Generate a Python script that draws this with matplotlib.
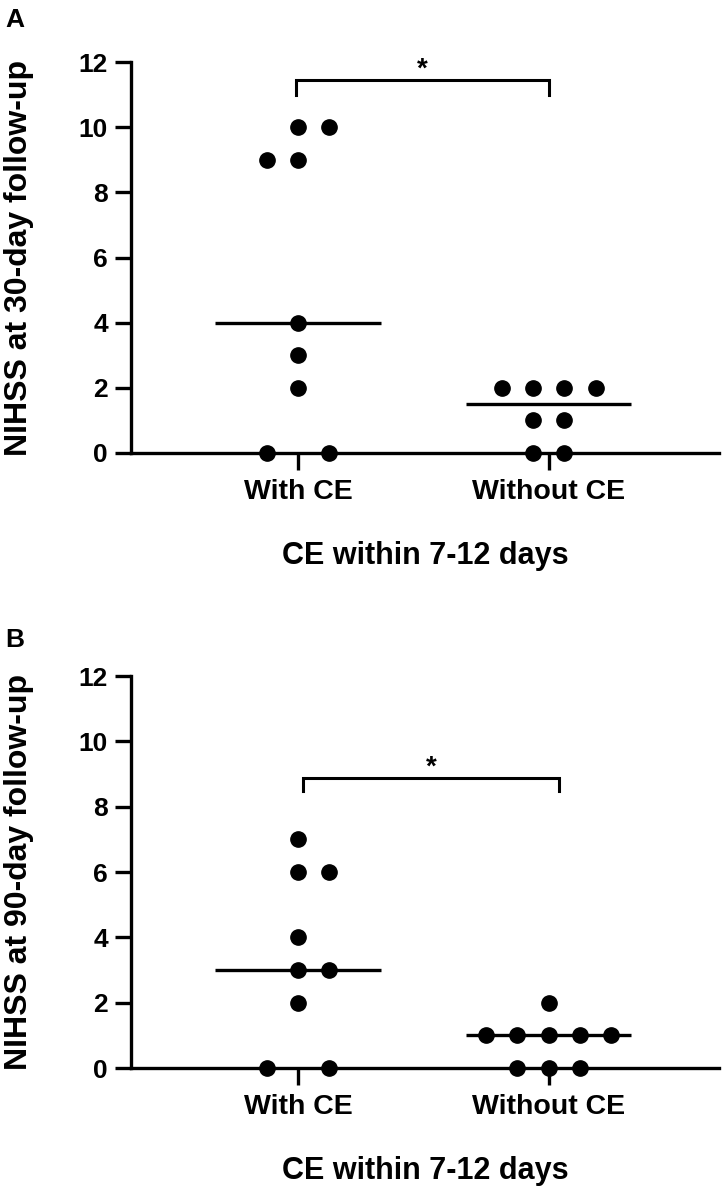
import numpy as np
import matplotlib
matplotlib.use("Agg")
import matplotlib.pyplot as plt

plt.rcParams['font.family'] = ['Liberation Sans', 'DejaVu Sans']
plt.rcParams['font.weight'] = 'bold'

# data
groups = ["With CE", "Without CE"]
a_with = [10, 10, 9, 9, 4, 3, 2, 0, 0]
a_without = [2, 2, 2, 2, 1, 1, 0, 0]
b_with = [7, 6, 6, 4, 3, 3, 2, 0, 0]
b_without = [2, 1, 1, 1, 1, 1, 0, 0, 0]
yticks = [0, 2, 4, 6, 8, 10, 12]

# horizontal slot of each dot (layout only, like the scatter dot plot)
a_with_slot = [0, 1, -1, 0, 0, 0, 0, -1, 1]
a_without_slot = [-1.5, -0.5, 0.5, 1.5, -0.5, 0.5, -0.5, 0.5]
b_with_slot = [0, 0, 1, 0, 0, 1, 0, -1, 1]
b_without_slot = [0, -2, -1, 0, 1, 2, -1, 0, 1]

W, H = 722, 1188
fig = plt.figure(figsize=(W / 100, H / 100), dpi=100)

LW = 2.4
STEP = 0.125


def panel(rect, vals, slots, ylabel, bracket, letter, letter_y):
    ax = fig.add_axes(rect)
    for i, (v, s) in enumerate(zip(vals, slots)):
        x = i + 1 + np.array(s) * STEP
        ax.plot(x, v, 'o', color='black', ms=11, clip_on=False, zorder=5)
        m = np.median(v)
        ax.plot([i + 1 - 0.33, i + 1 + 0.33], [m, m], color='black', lw=LW,
                solid_capstyle='butt', clip_on=False, zorder=4)
    ax.set_xlim(1 / 3, 2.68)
    ax.set_ylim(0, 12)
    ax.set_yticks(yticks)
    ax.set_xticks([1, 2])
    ax.set_xticklabels(groups)
    for sp in ['top', 'right']:
        ax.spines[sp].set_visible(False)
    for sp in ['left', 'bottom']:
        ax.spines[sp].set_linewidth(LW)
    ax.tick_params(axis='x', length=12, width=LW, pad=7, labelsize=20.5)
    ax.tick_params(axis='y', length=11.5, width=LW, pad=5, labelsize=19)
    ax.set_ylabel(ylabel, fontsize=23, fontweight='bold')
    ax.yaxis.label.set(va='baseline', rotation_mode='anchor')
    ax.yaxis.set_label_coords(-0.177, 0.5)
    ax.set_xlabel("CE within 7-12 days", fontsize=22, fontweight='bold')
    ax.xaxis.label.set(va='top')
    ax.xaxis.set_label_coords(0.5, -0.225)
    # significance bracket
    x0, x1, yb, yt = bracket
    ax.plot([x0, x0, x1, x1], [yb, yt, yt, yb], color='black', lw=2.2,
            clip_on=False, solid_joinstyle='miter')
    ax.text((x0 + x1) / 2, yt + 0.1, "*", ha='center', va='baseline',
            fontsize=20, fontweight='bold')
    fig.text(5 / W, letter_y, letter, fontsize=19, fontweight='bold',
             va='baseline', ha='left')
    return ax


axA = panel([131 / W, 1 - 453 / H, 588 / W, 391 / H], [a_with, a_without],
            [a_with_slot, a_without_slot], "NIHSS at 30-day follow-up",
            (0.99, 2.0, 11.0, 11.44), "A", 1 - 27 / H)
axB = panel([131 / W, 1 - 1068 / H, 588 / W, 392 / H], [b_with, b_without],
            [b_with_slot, b_without_slot], "NIHSS at 90-day follow-up",
            (1.02, 2.04, 8.48, 8.88), "B", 1 - 647 / H)

fig.savefig("out.png", dpi=100)
